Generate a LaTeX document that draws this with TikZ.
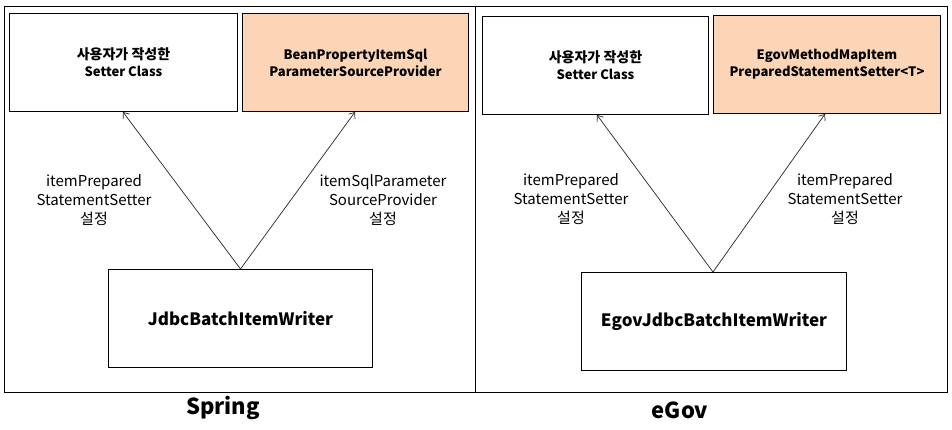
\documentclass[tikz,border=0pt]{standalone}
\usepackage{fontspec}
\setmainfont{Noto Sans CJK KR}
\usetikzlibrary{arrows.meta}
\definecolor{peach}{HTML}{FBD5B5}
\tikzset{
  box/.style={draw=black, line width=1pt, anchor=north west, inner sep=0pt, align=center},
  frame/.style={draw=black, line width=1pt},
  lbl/.style={align=center, font=\fontsize{15}{19}\selectfont, inner sep=0pt},
  conn/.style={line width=0.7pt, draw=black!85, -{Straight Barb[length=5pt,width=8pt]}},
  title/.style={font=\fontsize{22}{26}\selectfont\bfseries, inner sep=0pt}
}
\newcommand{\kr}[1]{{\fontsize{14}{17}\selectfont #1}}
\begin{document}
\begin{tikzpicture}[x=1pt,y=-1pt]
\useasboundingbox (0,0) rectangle (952,429);
\fill[white] (0,0) rectangle (952,429);
% frames
\draw[frame] (4,6) rectangle (475,392);
\draw[frame] (475,6) rectangle (947,392);
% left panel
\node[box, minimum width=228pt, minimum height=98pt, font=\fontsize{13}{17}\selectfont\bfseries] (ls) at (9,13) {\kr{사용자가 작성한}\\Setter Class};
\node[box, fill=peach, minimum width=226pt, minimum height=98pt, font=\fontsize{13}{17}\selectfont\bfseries] (lb) at (242,13) {BeanPropertyItemSql\\ParameterSourceProvider};
\node[box, minimum width=264pt, minimum height=98pt, font=\fontsize{17}{20}\selectfont\bfseries] (lw) at (108,269) {JdbcBatchItemWriter};
\coordinate (la) at (240.5,269);
\coordinate (lt1) at (123,112);
\coordinate (lt2) at (355,112);
\draw[conn] (la) -- (lt1);
\draw[conn] (la) -- (lt2);
\node[lbl] (ll1) at (94,200) {itemPrepared\\StatementSetter\\설정};
\node[lbl] (ll2) at (383,200) {itemSqlParameter\\SourceProvider\\설정};
\node[title] (spring) at (223,408) {Spring};
% right panel
\node[box, minimum width=226pt, minimum height=98pt, font=\fontsize{13}{17}\selectfont\bfseries] (rs) at (482,16) {\kr{사용자가 작성한}\\Setter Class};
\node[box, fill=peach, minimum width=227pt, minimum height=98pt, font=\fontsize{13}{17}\selectfont\bfseries] (rb) at (713,15) {EgovMethodMapItem\\PreparedStatementSetter<T>};
\node[box, minimum width=265pt, minimum height=98pt, font=\fontsize{17}{20}\selectfont\bfseries] (rw) at (581,272) {EgovJdbcBatchItemWriter};
\coordinate (ra) at (713,272);
\coordinate (rt1) at (597,115);
\coordinate (rt2) at (825,114);
\draw[conn] (ra) -- (rt1);
\draw[conn] (ra) -- (rt2);
\node[lbl] (rl1) at (571,199) {itemPrepared\\StatementSetter\\설정};
\node[lbl] (rl2) at (845,199) {itemPrepared\\StatementSetter\\설정};
\node[title] (egov) at (680,410) {eGov};
\end{tikzpicture}
\end{document}
